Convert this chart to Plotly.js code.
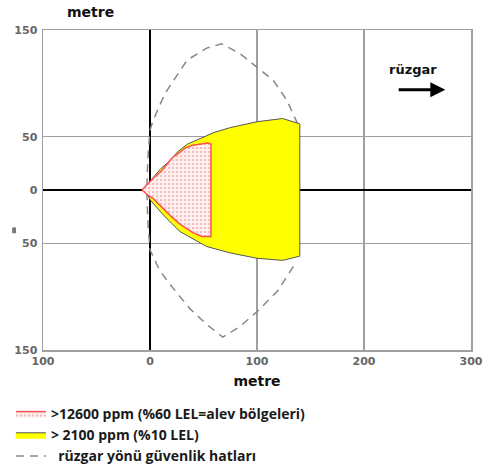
<!DOCTYPE html>
<html>
<head>
<meta charset="utf-8">
<script src="https://cdn.plot.ly/plotly-3.0.1.min.js"></script>
<style>html,body{margin:0;padding:0;background:#fff;}#chart{width:485px;height:465px;}</style>
</head>
<body>
<div id="chart"></div>
<script>
// ---- data (metres) ----
var flameX = [-7.5, -3, 3, 11, 16, 20.5, 28, 33, 40, 48, 54, 57, 57, 48.5, 40, 28, 20, 12, 3, -3, -7.5];
var flameY = [0, 5, 11, 18, 24.5, 30, 35.5, 39.5, 42, 43.5, 44, 43, -43.5, -43.5, -40, -32, -25, -17, -8, -4, 0];

var lelX = [-6.5, -2, 0, 10, 17, 26, 35, 48.6, 60, 75, 100, 124, 140, 140, 124, 100, 75, 53, 40, 28, 12, 0, -2, -6.5];
var lelY = [0, 5.5, 8.5, 20, 26, 36, 43, 49, 54, 58.5, 64, 67, 62, -62, -66, -64, -59, -53, -46, -39, -23, -9, -5, 0];

var safeX = [138, 128, 115, 100, 84, 67, 53, 34.6, 14, 2.8, 0, -2, -3, -2, 0, 9.3, 21.5, 37, 53, 68, 84, 100, 119, 137];
var safeY = [62, 84, 103, 115, 128, 137, 133, 121.7, 90.5, 65, 56, 30, 0, -30, -56, -76, -92, -111, -126, -138, -128, -114, -95, -67];

var xTickVals = [-100, 0, 100, 200, 300];
var xTickText = ['100', '0', '100', '200', '300'];
var yTickVals = [150, 50, 0, -50, -150];
var yTickText = ['150', '50', '0', '50', '150'];

var seriesNames = ['>12600 ppm (%60 LEL=alev bölgeleri)', '> 2100 ppm (%10 LEL)', '  rüzgar yönü güvenlik hatları'];

var traces = [
  {
    x: safeX, y: safeY, type: 'scatter', mode: 'lines',
    name: seriesNames[2],
    line: {color: '#888888', width: 1.5, dash: '8px,6px'},
    hoverinfo: 'skip', legendrank: 3
  },
  {
    x: lelX, y: lelY, type: 'scatter', mode: 'lines', fill: 'toself',
    name: seriesNames[1],
    fillcolor: '#ffff00',
    line: {color: '#555555', width: 1},
    hoverinfo: 'skip', legendrank: 2
  },
  {
    x: flameX, y: flameY, type: 'scatter', mode: 'lines', fill: 'toself',
    name: seriesNames[0],
    fillcolor: '#ffe4e4',
    fillpattern: {shape: '.', fgcolor: '#f4a8a8', bgcolor: '#fff0f0', size: 4, solidity: 0.2},
    line: {color: '#ff5050', width: 1.5},
    hoverinfo: 'skip', legendrank: 1
  }
];

var tickFont = {family: 'DejaVu Sans', size: 11, color: '#666666', weight: 'bold'};

var layout = {
  width: 485, height: 465,
  margin: {l: 43, r: 14, t: 30, b: 115, autoexpand: false},
  paper_bgcolor: '#ffffff', plot_bgcolor: '#ffffff',
  showlegend: true,
  legend: {
    x: -0.075, y: -0.15, xanchor: 'left', yanchor: 'top',
    font: {family: 'Open Sans', size: 14, color: '#1a1a1a', weight: 'bold'},
    bgcolor: 'rgba(0,0,0,0)', traceorder: 'normal', itemwidth: 30
  },
  xaxis: {
    range: [-100, 300], tickmode: 'array', tickvals: xTickVals, ticktext: xTickText,
    showgrid: true, gridcolor: '#a0a0a0', gridwidth: 1.5,
    zeroline: true, zerolinecolor: '#000000', zerolinewidth: 2,
    showline: true, mirror: true, linecolor: '#a0a0a0', linewidth: 1.5,
    ticks: '', tickfont: tickFont,
    title: {text: 'metre', font: {family: 'DejaVu Sans', size: 14, color: '#111111', weight: 'bold'}, standoff: 9},
    fixedrange: true
  },
  yaxis: {
    range: [-150, 150], tickmode: 'array', tickvals: yTickVals, ticktext: yTickText,
    showgrid: true, gridcolor: '#a0a0a0', gridwidth: 1.5,
    zeroline: true, zerolinecolor: '#000000', zerolinewidth: 2,
    showline: true, mirror: true, linecolor: '#a0a0a0', linewidth: 1.5,
    ticks: '', tickfont: tickFont, ticklabelstandoff: 2,
    fixedrange: true
  },
  annotations: [
    {
      xref: 'paper', yref: 'paper', x: 0.11, y: 1.055, xanchor: 'center', yanchor: 'middle',
      text: 'metre', showarrow: false,
      font: {family: 'DejaVu Sans', size: 14, color: '#111111', weight: 'bold'}
    },
    {
      xref: 'x', yref: 'y', x: 246, y: 113, text: 'rüzgar', showarrow: false,
      font: {family: 'DejaVu Sans', size: 13, color: '#111111', weight: 'bold'}
    },
    {
      xref: 'x', yref: 'y', axref: 'x', ayref: 'y',
      x: 276, y: 94, ax: 231, ay: 94, text: '', showarrow: true,
      arrowhead: 2, arrowsize: 1, arrowwidth: 3, arrowcolor: '#000000'
    }
  ],
  shapes: [
    {type: 'rect', xref: 'paper', yref: 'paper', x0: -0.072, x1: -0.063, y0: 0.365, y1: 0.383,
     fillcolor: '#777777', line: {width: 0}}
  ]
};

Plotly.newPlot('chart', traces, layout, {displayModeBar: false, staticPlot: true});
</script>
</body>
</html>
